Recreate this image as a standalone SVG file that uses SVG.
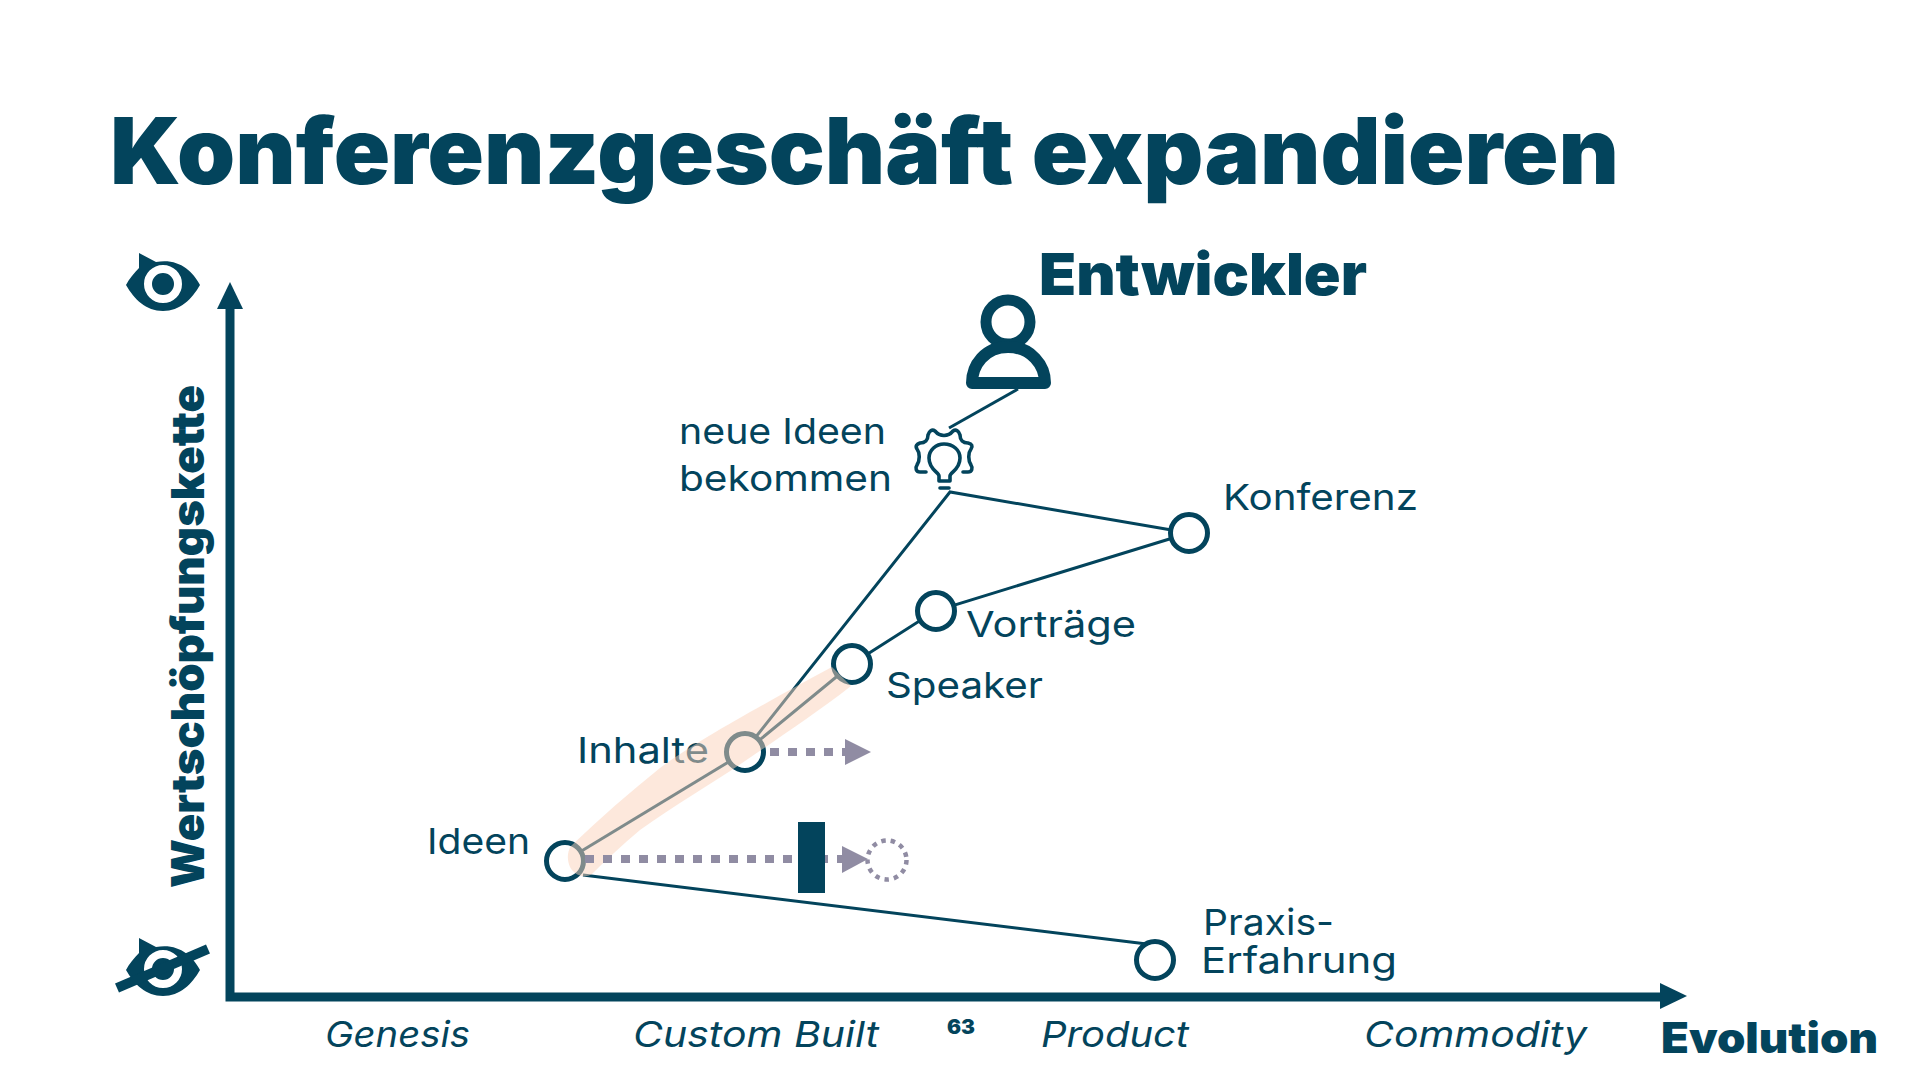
<svg xmlns="http://www.w3.org/2000/svg" width="1920" height="1080" viewBox="0 0 1920 1080">
<defs><style>
text{font-family:"Inter","Lato",sans-serif;fill:#03445c;font-variant-ligatures:none}
.b{font-weight:900}
.l{font-size:36px;font-weight:400}
.i{font-size:36px;font-style:italic}
.c{fill:#fff;stroke:#03445c;stroke-width:5}
.w{fill:none;stroke:#03445c;stroke-width:3}
.d{fill:none;stroke:#908ca3;stroke-width:8;stroke-dasharray:9 9}
.a{fill:#908ca3}
.e{fill:#03445c}
</style></defs>
<rect width="1920" height="1080" fill="#fff"/>
<text class="b" x="110" y="184" font-size="92" textLength="1509" lengthAdjust="spacingAndGlyphs">Konferenzgeschäft expandieren</text>
<text class="b" x="1039" y="295" font-size="58" textLength="328" lengthAdjust="spacingAndGlyphs">Entwickler</text>
<g id="axes">
<path d="M230 309V997H1662" fill="none" stroke="#03445c" stroke-width="9"/>
<polygon class="e" points="230,282 243,309 217,309"/>
<polygon class="e" points="1687,996 1660,983 1660,1009"/>
</g>
<g id="eye-top">
<path class="e" d="M139 253L156 262C178 258 192 270 200 285C192 299 180 311 163 311C146 311 134 299 126 285C129 279 134 273 139 268Z"/>
<circle cx="163" cy="284" r="15" fill="none" stroke="#fff" stroke-width="8"/>
</g>
<g id="eye-bottom">
<path class="e" d="M139 938L156 947C178 943 192 955 200 970C192 984 180 996 163 996C146 996 134 984 126 970C129 964 134 958 139 953Z"/>
<circle cx="163" cy="969" r="15" fill="none" stroke="#fff" stroke-width="8"/>
<path d="M117 988L208 949" stroke="#03445c" stroke-width="10" fill="none"/>
</g>
<text class="b" font-size="46" transform="translate(204 888) rotate(-90)" textLength="503" lengthAdjust="spacingAndGlyphs">Wertschöpfungskette</text>
<g id="connectors">
<path class="w" d="M1018 389L949 428"/>
<path class="w" d="M747 748L950 492L1189 533"/>
<path class="w" d="M745 752L852 664L935 611L1189 533"/>
<path class="w" d="M565 861L745 752"/>
<path class="w" d="M583 875L1155 945"/>
</g>
<g id="person">
<circle cx="1008" cy="322" r="22" fill="none" stroke="#03445c" stroke-width="11"/>
<path d="M1008 347C985 347 972 365 972 383H1045C1045 365 1031 347 1008 347Z" fill="none" stroke="#03445c" stroke-width="12" stroke-linejoin="round"/>
</g>
<g id="gear" fill="none" stroke="#03445c" stroke-width="3.600" stroke-linecap="round" stroke-linejoin="round">
<path d="M926 472H920C916 472 915 468 917 465C920 460 920 453 917 449C915 446 917 444 920 443C925 443 928 440 928 435C929 431 932 429 935 431C940 437 948 437 953 431C956 429 959 431 960 435C960 440 963 443 968 443C972 444 973 446 971 449C968 453 968 460 971 465C973 468 972 472 968 472H963"/>
<path d="M939 481V476C939 472 929 470 929 458C929 450 936 444 944 444C953 444 960 450 960 458C960 470 950 472 950 476V481Z"/>
<path d="M940 488H949"/>
</g>
<g id="ideen"><circle class="c" cx="565" cy="861" r="18.500"/><text class="l" x="427" y="854" textLength="103" lengthAdjust="spacingAndGlyphs">Ideen</text></g>
<g id="inhalte"><circle class="c" cx="745" cy="752" r="18.500"/><text class="l" x="577" y="763" textLength="132" lengthAdjust="spacingAndGlyphs">Inhalte</text></g>
<g id="speaker"><circle class="c" cx="852" cy="664" r="18.500"/><text class="l" x="886" y="698" textLength="157" lengthAdjust="spacingAndGlyphs">Speaker</text></g>
<g id="vortraege"><circle class="c" cx="936" cy="611" r="18.500"/><text class="l" x="966" y="637" textLength="170" lengthAdjust="spacingAndGlyphs">Vorträge</text></g>
<g id="konferenz"><circle class="c" cx="1189" cy="533" r="18.500"/><text class="l" x="1223" y="510" textLength="195" lengthAdjust="spacingAndGlyphs">Konferenz</text></g>
<g id="praxis"><circle class="c" cx="1155" cy="960" r="18.500"/><text class="l" x="1203" y="935" textLength="131" lengthAdjust="spacingAndGlyphs">Praxis-</text><text class="l" x="1201" y="973" textLength="196" lengthAdjust="spacingAndGlyphs">Erfahrung</text></g>
<g id="ideas-label"><text class="l" x="679" y="444" textLength="207" lengthAdjust="spacingAndGlyphs">neue Ideen</text><text class="l" x="679" y="491" textLength="213" lengthAdjust="spacingAndGlyphs">bekommen</text></g>
<path id="highlight" d="M571 846C600 818 630 792 660 768C695 742 760 706 832 667L851 686C815 714 780 737 745 761C710 785 675 805 640 830C622 845 606 860 592 874C584 879 574 875 570 867C567 860 567 852 571 846Z" fill="#fbd1b9" fill-opacity=".5"/>
<g id="inertia">
<path class="d" d="M770 752H845"/>
<path class="d" d="M585 859H842"/>
<polygon class="a" points="845,739 871,752 845,765"/>
<polygon class="a" points="842,846 868,859 842,873"/>
<rect x="798" y="822" width="27" height="71" class="e"/>
<circle cx="887" cy="860" r="19.500" fill="none" stroke="#908ca3" stroke-width="4.500" stroke-dasharray="4.500 5"/>
</g>
<text class="i" x="325" y="1047" textLength="145" lengthAdjust="spacingAndGlyphs">Genesis</text>
<text class="i" x="633" y="1047" textLength="246" lengthAdjust="spacingAndGlyphs">Custom Built</text>
<text class="i" x="1041" y="1047" textLength="148" lengthAdjust="spacingAndGlyphs">Product</text>
<text class="i" x="1364" y="1047" textLength="223" lengthAdjust="spacingAndGlyphs">Commodity</text>
<text class="b" x="947" y="1034" font-size="20" textLength="28" lengthAdjust="spacingAndGlyphs">63</text>
<text class="b" x="1661" y="1053" font-size="42" textLength="217" lengthAdjust="spacingAndGlyphs">Evolution</text>
</svg>
